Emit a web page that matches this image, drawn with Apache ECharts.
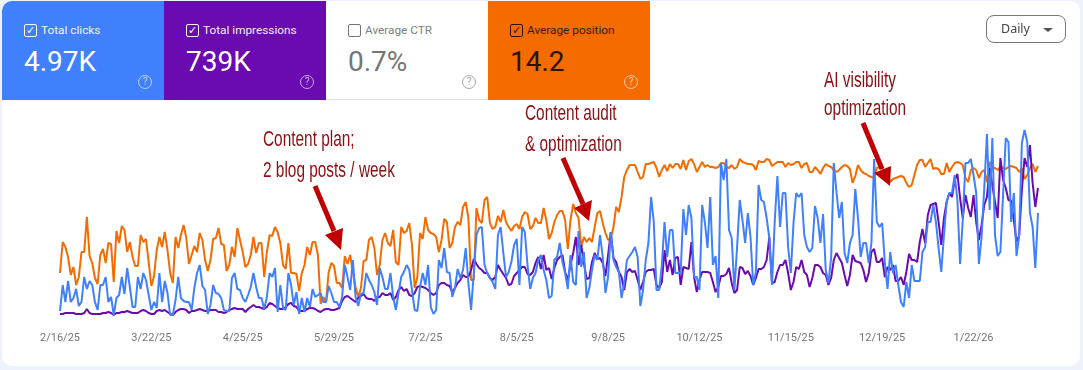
<!DOCTYPE html>
<html>
<head>
<meta charset="utf-8">
<title>Search performance</title>
<script src="https://cdn.jsdelivr.net/npm/echarts@6/dist/echarts.min.js"></script>
<style>
  html, body { margin: 0; padding: 0; width: 1083px; height: 370px; overflow: hidden; background: #eef2fb; font-family: Roboto, sans-serif; }
  .card { position: absolute; left: 2px; top: 1px; width: 1078px; height: 365px; background: #fff; border-radius: 10px; overflow: hidden; }
  #chart { position: absolute; left: 0; top: 0; width: 1083px; height: 370px; }
  .tile { position: absolute; top: 1px; height: 99px; width: 162px; box-sizing: border-box; }
  .tile .box { position: absolute; left: 22px; top: 23px; width: 11px; height: 11px; border: 1px solid currentColor; border-radius: 2px; font-size: 11px; line-height: 11px; text-align: center; }
  .tile .name { position: absolute; left: 39px; top: 21px; font-size: 11.8px; line-height: 16px; white-space: nowrap; opacity: .92; }
  .tile .num { position: absolute; left: 22px; top: 43px; font-size: 28px; line-height: 36px; font-weight: 400; }
  .tile .help { position: absolute; left: 136px; top: 74px; width: 12px; height: 12px; border: 1px solid currentColor; border-radius: 50%; font-size: 10px; line-height: 12px; text-align: center; opacity: .65; }
  .daily { position: absolute; left: 986px; top: 15px; width: 78px; height: 26px; border: 1px solid #777; border-radius: 8px; background: #fff; font-size: 12.5px; line-height: 26px; color: #444; font-family: "Noto Sans", sans-serif; }
  .daily span { position: absolute; left: 14px; top: 0; }
  .daily i { position: absolute; left: 56px; top: 12px; border-left: 5px solid transparent; border-right: 5px solid transparent; border-top: 4px solid #555; }
</style>
</head>
<body>
<div class="card"></div>
<div id="chart"></div>
<div class="tile" style="left:2px;background:#4080fc;color:#fff;border-top-left-radius:10px">
  <div class="box">&#10003;</div><div class="name">Total clicks</div><div class="num">4.97K</div><div class="help">?</div>
</div>
<div class="tile" style="left:164px;background:#6a0bb1;color:#fff">
  <div class="box">&#10003;</div><div class="name">Total impressions</div><div class="num">739K</div><div class="help">?</div>
</div>
<div class="tile" style="left:326px;background:#fff;color:#757575;border-bottom:1px solid #ddd">
  <div class="box"></div><div class="name">Average CTR</div><div class="num">0.7%</div><div class="help">?</div>
</div>
<div class="tile" style="left:488px;background:#f56b00;color:#2a1300">
  <div class="box">&#10003;</div><div class="name">Average position</div><div class="num">14.2</div><div class="help" style="color:#fff">?</div>
</div>
<div class="daily"><span>Daily</span><i></i></div>

<script>
// values, in chart height units (the source has no y axis)
const clicks = [
  19,45,28,49,28,32,41,24,28,53,41,49,45,28,20,45,45,53,28,33,15,32,35,53,36,62,43,23,23,53,41,57,50,35,20,28,22,57,28,49,37,15,15,30,53,32,29,28,28,20,42,57,65,
  44,40,16,25,45,37,36,32,20,19,19,52,57,41,40,32,28,35,43,57,43,32,32,21,33,57,53,62,18,45,22,20,57,45,25,38,16,32,18,32,23,41,33,35,37,28,28,44,37,28,28,23,
  33,65,53,40,70,33,24,36,37,57,50,45,38,25,62,53,41,41,57,33,20,37,53,58,65,60,40,20,19,43,57,45,65,23,16,20,70,62,82,58,57,33,42,61,52,60,82,47,20,57,95,102,
  103,65,57,52,48,41,95,103,77,53,58,68,85,91,45,103,98,65,41,52,57,70,75,60,50,32,34,70,73,87,68,57,41,75,48,45,99,63,78,32,42,60,75,70,95,73,37,53,98,70,63,58,32,
  47,70,74,78,83,73,24,40,70,87,133,108,40,40,65,108,73,100,100,57,57,57,121,95,125,112,53,53,40,125,108,82,133,65,74,32,167,150,171,100,92,40,83,130,110,87,117,93,45,58,145,130,
  128,112,92,45,108,154,103,137,137,83,57,107,137,133,137,95,83,78,82,124,112,87,116,60,47,72,167,138,112,128,77,67,87,95,141,112,73,87,87,67,87,171,108,103,107,67,41,78,57,65,45,28,
  23,48,32,65,49,49,49,78,83,108,108,125,108,82,58,95,128,137,137,155,130,66,110,167,167,171,155,137,66,93,142,196,120,192,95,74,78,135,192,188,108,137,74,95,187,200,188,117,103,62,117
];
const impressions = [
  16,16,17,17,17,17,16,16,16,17,21,17,16,16,16,16,17,17,18,17,15,17,17,18,18,19,18,17,17,17,19,20,19,17,16,16,19,20,19,20,18,16,15,18,20,21,21,20,17,19,19,20,21,
  20,19,19,20,20,20,18,18,17,18,20,21,22,21,21,21,18,21,23,25,23,23,22,21,23,27,26,24,22,21,21,23,26,27,24,23,19,19,19,21,22,22,21,19,18,20,21,21,20,20,21,22,
  29,33,34,32,30,28,32,34,36,32,31,31,29,33,33,37,35,35,37,30,33,40,43,39,41,35,34,37,43,44,43,42,40,37,35,37,45,47,47,45,44,38,42,47,50,55,53,53,60,71,66,62,
  60,57,57,52,50,53,65,60,56,52,45,46,54,57,60,63,63,56,55,58,67,73,61,75,60,62,51,62,70,73,75,58,50,65,77,93,65,85,67,51,52,68,77,71,72,67,54,75,98,72,68,58,53,
  40,58,61,58,59,50,40,48,58,60,60,61,45,42,48,80,58,70,55,72,73,45,63,62,61,88,53,38,50,58,58,58,57,48,38,43,54,54,56,62,47,37,40,63,62,56,59,54,45,52,61,61,
  63,70,93,47,48,58,65,65,70,57,40,48,63,61,70,58,55,43,52,65,65,63,57,55,45,52,70,77,72,67,55,44,55,75,69,68,67,60,48,57,78,81,68,68,72,53,63,60,65,49,49,53,
  45,58,76,70,70,68,88,101,87,115,125,126,127,108,85,112,128,137,133,150,156,132,112,135,122,113,135,108,90,105,125,133,162,145,128,112,172,150,142,130,129,110,88,95,140,172,163,185,147,123,142
];
const position = [
  57,88,83,73,55,63,45,53,78,78,113,74,67,52,46,75,81,67,87,86,48,99,87,104,100,78,88,73,64,64,95,88,91,68,44,54,80,93,83,98,80,57,47,93,82,95,105,92,66,75,84,78,97,
  90,70,59,70,91,92,102,86,85,59,65,83,73,102,90,78,63,66,75,93,77,87,87,53,78,95,94,103,98,87,65,61,87,57,57,56,39,57,65,83,75,88,88,75,26,33,28,58,67,64,47,47,
  42,74,66,75,58,43,33,42,69,70,90,93,82,55,65,90,97,87,84,100,68,65,103,97,99,107,85,42,53,97,91,113,100,97,96,93,78,90,111,108,82,87,103,108,105,123,128,112,50,50,122,110,
  107,130,133,107,101,103,114,108,120,108,103,99,104,106,101,113,118,116,101,104,112,107,107,122,110,91,97,108,115,119,119,110,81,110,126,117,112,83,93,88,92,88,103,117,119,107,97,90,92,103,123,118,133,
  153,160,165,165,165,158,151,153,166,166,167,168,162,153,160,165,159,166,162,166,166,161,170,160,169,171,166,158,163,168,163,165,163,163,162,163,167,167,163,162,165,161,163,171,168,167,166,166,165,160,169,168,
  168,171,170,164,166,168,168,168,163,167,165,166,168,168,162,166,167,158,158,163,160,156,162,166,164,163,160,158,160,163,165,164,161,147,154,165,160,157,156,154,153,152,162,163,162,158,154,148,151,152,153,154,
  153,147,143,145,155,165,170,170,163,167,171,161,162,161,156,156,167,158,163,167,168,167,165,152,148,160,162,160,152,158,160,148,168,162,162,160,163,162,161,163,164,163,162,158,162,151,155,162,166,158,164
];

// daily categories from 2/16/25
const startDate = new Date(2025, 1, 16);
const dates = clicks.map((_, i) => {
  const d = new Date(startDate.getFullYear(), startDate.getMonth(), startDate.getDate() + i);
  return (d.getMonth() + 1) + "/" + d.getDate() + "/" + String(d.getFullYear()).slice(2);
});
const labelEvery = 34;

const notes = [
  { lines: ["Content plan;", "2 blog posts / week"], x: 263, y: [140, 171] },
  { lines: ["Content audit", "& optimization"], x: 525, y: [114, 145] },
  { lines: ["AI visibility", "optimization"], x: 824, y: [81, 109] },
];
const arrows = [
  { from: [315, 186], neck: [334, 231], tip: [341, 250], a: [325, 235], b: [343, 228] },
  { from: [563, 158], neck: [583, 204], tip: [589, 221], a: [574, 208], b: [592, 200] },
  { from: [863, 123], neck: [882, 169], tip: [890, 186], a: [874, 173], b: [891, 166] },
];

const graphic = [];
notes.forEach((n) => {
  n.lines.forEach((line, i) => {
    // no condensed face installed, so squeeze the sans horizontally
    graphic.push({
      type: "text", x: n.x, y: n.y[i], originX: 0, originY: 0, scaleX: 0.7, z: 20,
      style: { text: line, fill: "#8c0f14", verticalAlign: "middle", font: '22px "Liberation Sans", sans-serif' },
    });
  });
});
arrows.forEach((a) => {
  graphic.push({
    type: "line", z: 19,
    shape: { x1: a.from[0], y1: a.from[1], x2: a.neck[0], y2: a.neck[1] },
    style: { stroke: "#c00000", lineWidth: 5 },
  });
  graphic.push({
    type: "polygon", z: 19,
    shape: { points: [a.a, a.b, a.tip] },
    style: { fill: "#c00000" },
  });
});

const lineSeries = (name, data, color) => ({
  name, data, type: "line", showSymbol: false, silent: true,
  lineStyle: { color, width: 2 }, itemStyle: { color },
});

const chart = echarts.init(document.getElementById("chart"), null, { renderer: "canvas" });
chart.setOption({
  animation: false,
  backgroundColor: "transparent",
  grid: { left: 60, right: 45, top: 100, bottom: 40 },
  xAxis: {
    type: "category",
    data: dates,
    boundaryGap: false,
    axisLine: { show: false },
    axisTick: { show: false },
    axisLabel: { interval: labelEvery - 1, color: "#757575", fontSize: 11, fontFamily: "Roboto", margin: 3, hideOverlap: false },
  },
  yAxis: { type: "value", min: 0, max: 230, show: false },
  series: [
    lineSeries("Average position", position, "#f56b00"),
    lineSeries("Total impressions", impressions, "#6a0bb1"),
    lineSeries("Total clicks", clicks, "#4080fc"),
  ],
  graphic,
});
</script>
</body>
</html>
